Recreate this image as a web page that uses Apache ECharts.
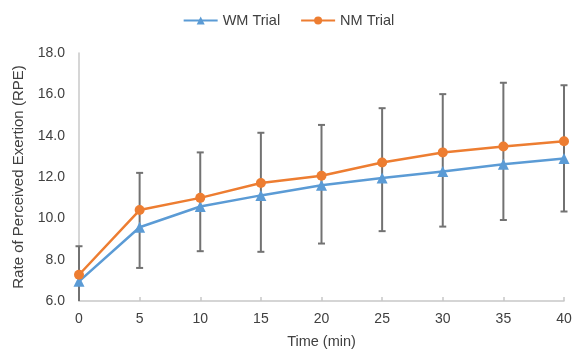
<!DOCTYPE html>
<html><head><meta charset="utf-8">
<script src="https://cdn.jsdelivr.net/npm/echarts@6/dist/echarts.min.js"></script>
<style>html,body{margin:0;padding:0;background:#fff}#c{width:577px;height:354px}</style>
</head><body><div id="c"></div>
<script>
const times = [0, 5, 10, 15, 20, 25, 30, 35, 40];
const wmTrial = [6.95, 9.57, 10.57, 11.11, 11.6, 11.95, 12.27, 12.62, 12.9];
const nmTrial = [7.27, 10.4, 10.99, 11.71, 12.06, 12.7, 13.19, 13.48, 13.73];
const errHigh = [8.65, 12.2, 13.19, 14.14, 14.52, 15.33, 16.01, 16.56, 16.44];
const errLow  = [5.4, 7.6, 8.41, 8.38, 8.78, 9.38, 9.6, 9.92, 10.33];
const yTicks = [6, 8, 10, 12, 14, 16, 18];

const font = 'Liberation Sans, Arial, sans-serif';
const yMin = yTicks[0];
const chart = echarts.init(document.getElementById('c'));
chart.setOption({
  animation: false,
  textStyle: { fontFamily: font },
  legend: {
    top: 8, left: 'center', itemGap: 20, itemWidth: 34, itemHeight: 10,
    textStyle: { fontFamily: font, fontSize: 14.5, color: '#404040' },
    data: ['WM Trial', 'NM Trial']
  },
  grid: { left: 79, right: 13, top: 53, bottom: 49 },
  xAxis: {
    type: 'value', min: 0, max: 40, interval: 5,
    name: 'Time (min)', nameLocation: 'middle', nameGap: 33,
    nameTextStyle: { fontFamily: font, fontSize: 14.5, color: '#404040' },
    axisLine: { lineStyle: { color: '#c8c8c8', width: 1.5 } },
    axisTick: { show: true, inside: true, length: 4, lineStyle: { color: '#c8c8c8', width: 1.5 } },
    axisLabel: { fontFamily: font, fontSize: 14, color: '#404040', margin: 11 },
    splitLine: { show: false }
  },
  yAxis: {
    type: 'value', min: yMin, max: yTicks[yTicks.length - 1], interval: 2,
    name: 'Rate of Perceived Exertion (RPE)', nameLocation: 'middle', nameGap: 49,
    nameTextStyle: { fontFamily: font, fontSize: 15, color: '#404040' },
    axisLine: { show: true, lineStyle: { color: '#c8c8c8', width: 1.5 } },
    axisTick: { show: false },
    axisLabel: { fontFamily: font, fontSize: 14, color: '#404040', margin: 14,
      formatter: v => v.toFixed(1) },
    splitLine: { show: false }
  },
  series: [
    {
      type: 'custom', name: 'err', z: 1, clip: false,
      data: times.map((t, i) => [t, errLow[i], errHigh[i]]),
      renderItem: function (params, api) {
        const x = api.value(0);
        const lowV = api.value(1);
        const clamped = lowV < yMin;
        const lo = api.coord([x, clamped ? yMin : lowV]);
        const hi = api.coord([x, api.value(2)]);
        const cw = 3.5;
        const st = { stroke: '#727272', lineWidth: 2 };
        const children = [
          { type: 'line', shape: { x1: lo[0], y1: lo[1], x2: hi[0], y2: hi[1] }, style: st },
          { type: 'line', shape: { x1: hi[0] - cw, y1: hi[1], x2: hi[0] + cw, y2: hi[1] }, style: st }
        ];
        if (!clamped) {
          children.push({ type: 'line', shape: { x1: lo[0] - cw, y1: lo[1], x2: lo[0] + cw, y2: lo[1] }, style: st });
        }
        return { type: 'group', children: children };
      }
    },
    {
      type: 'line', name: 'WM Trial', z: 3,
      data: times.map((t, i) => [t, wmTrial[i]]),
      symbol: 'triangle', symbolSize: 11,
      lineStyle: { color: '#5B9BD5', width: 2.5 },
      itemStyle: { color: '#5B9BD5' }
    },
    {
      type: 'line', name: 'NM Trial', z: 3,
      data: times.map((t, i) => [t, nmTrial[i]]),
      symbol: 'circle', symbolSize: 10,
      lineStyle: { color: '#ED7D31', width: 2.5 },
      itemStyle: { color: '#ED7D31' }
    }
  ]
});
</script></body></html>
